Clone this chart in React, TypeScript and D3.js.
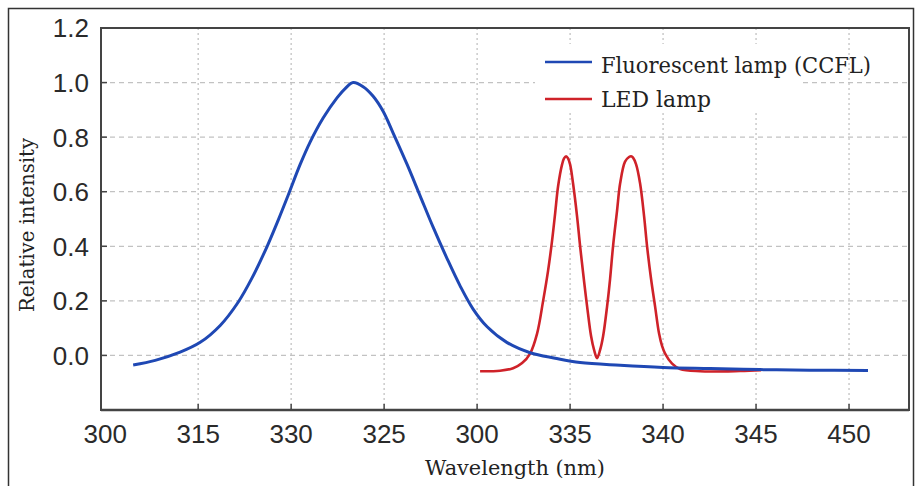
import * as d3 from "d3";

// tick labels as printed on the original axis (not monotonic, so ticks are positional)
const xTickLabels = ["300", "315", "330", "325", "300", "335", "340", "345", "450"];
const yTicks = [0, 0.2, 0.4, 0.6, 0.8, 1.0, 1.2];

// x = position along the axis in tick units (0 = first tick, 8 = last tick)
const ccflX = [0.301, 0.538, 0.806, 1.022, 1.237, 1.43, 1.581, 1.742, 1.86, 1.968, 2.097, 2.204, 2.344, 2.495, 2.581, 2.667, 2.774, 2.882, 2.989, 3.097, 3.247, 3.387, 3.527, 3.677, 3.817, 3.957, 4.108, 4.323, 4.57, 4.839, 5.108, 5.538, 6.0, 6.505, 7.043, 7.581, 8.204];
const ccflY = [-0.035, -0.018, 0.012, 0.048, 0.11, 0.195, 0.285, 0.4, 0.495, 0.587, 0.7, 0.782, 0.87, 0.945, 0.978, 1.0, 0.985, 0.95, 0.895, 0.815, 0.7, 0.585, 0.47, 0.355, 0.255, 0.17, 0.105, 0.047, 0.01, -0.01, -0.026, -0.036, -0.044, -0.048, -0.052, -0.054, -0.055];

const ledX = [4.032, 4.247, 4.387, 4.484, 4.57, 4.645, 4.71, 4.763, 4.806, 4.839, 4.871, 4.914, 4.935, 4.957, 4.978, 5.0, 5.032, 5.075, 5.108, 5.151, 5.183, 5.226, 5.258, 5.29, 5.323, 5.355, 5.398, 5.43, 5.462, 5.505, 5.538, 5.591, 5.634, 5.656, 5.677, 5.71, 5.753, 5.796, 5.828, 5.871, 5.914, 5.957, 5.989, 6.022, 6.097, 6.183, 6.398, 6.828, 7.054];
const ledY = [-0.058, -0.056, -0.047, -0.028, 0.007, 0.08, 0.2, 0.31, 0.42, 0.52, 0.62, 0.7, 0.722, 0.73, 0.722, 0.7, 0.63, 0.51, 0.4, 0.27, 0.18, 0.07, 0.02, -0.01, 0.02, 0.07, 0.18, 0.28, 0.4, 0.53, 0.63, 0.71, 0.727, 0.73, 0.725, 0.7, 0.63, 0.51, 0.4, 0.28, 0.18, 0.08, 0.035, 0.007, -0.03, -0.05, -0.058, -0.057, -0.054];

const seriesNames = ["Fluorescent lamp (CCFL)", "LED lamp"];
const colors = ["#1f48b4", "#cf2229"];

export default function App() {
    const left = 101, right = 909, top = 28, bottom = 410;

    const x = d3.scaleLinear().domain([-0.045, 8.645]).range([left, right]);
    const y = d3.scaleLinear().domain([-0.2, 1.2]).range([bottom, top]);

    const line = d3.line<[number, number]>()
        .x(d => x(d[0]))
        .y(d => y(d[1]))
        .curve(d3.curveCatmullRom.alpha(0.5));

    const ccfl = ccflX.map((v, i) => [v, ccflY[i]] as [number, number]);
    const led = ledX.map((v, i) => [v, ledY[i]] as [number, number]);

    const sans = {fontFamily: '"Liberation Sans", Arial, Helvetica, sans-serif'};
    const serif = {fontFamily: '"DejaVu Serif", "Liberation Serif", serif'};

    return (
        <svg width={916} height={486} style={{position: "absolute", left: 0, top: 0, background: "#fff"}}>
            {/* outer frame */}
            <rect x={8.5} y={8.5} width={905} height={495} fill="none" stroke="#333" strokeWidth={1.5}/>

            {/* grid */}
            {xTickLabels.map((_, i) => i > 0 && (
                <line key={"gx" + i} x1={x(i)} x2={x(i)} y1={top} y2={bottom}
                      stroke="#bdbdbd" strokeWidth={1.2} strokeDasharray="2,3"/>
            ))}
            {yTicks.filter(t => t < 1.1).map(t => (
                <line key={"gy" + t} x1={left} x2={right} y1={y(t)} y2={y(t)}
                      stroke="#c2c2c2" strokeWidth={1.3} strokeDasharray="5,4"/>
            ))}

            {/* legend background */}
            <rect x={535} y={44} width={265} height={69} fill="#fff"/>

            {/* series */}
            <path d={line(led) ?? ""} fill="none" stroke={colors[1]} strokeWidth={2.6}/>
            <path d={line(ccfl) ?? ""} fill="none" stroke={colors[0]} strokeWidth={3}/>

            {/* plot frame */}
            <rect x={left} y={top} width={right - left} height={bottom - top} fill="none" stroke="#444" strokeWidth={2}/>
            <line x1={left} x2={right} y1={bottom} y2={bottom} stroke="#444" strokeWidth={2.6}/>

            {/* ticks */}
            {xTickLabels.map((lab, i) => (
                <g key={"xt" + i}>
                    {i > 0 && <line x1={x(i)} x2={x(i)} y1={bottom} y2={bottom - 6} stroke="#444" strokeWidth={1.5}/>}
                    <text x={x(i)} y={443} textAnchor="middle" style={sans} fontSize={26} fill="#2a2a2a">{lab}</text>
                </g>
            ))}
            {yTicks.map(t => (
                <g key={"yt" + t}>
                    {t < 1.1 && <line x1={left} x2={left + 6} y1={y(t)} y2={y(t)} stroke="#444" strokeWidth={1.5}/>}
                    <text x={89} y={y(t)} dy="0.36em" textAnchor="end" style={sans} fontSize={26} fill="#2a2a2a">{t.toFixed(1)}</text>
                </g>
            ))}

            {/* axis titles */}
            <text x={515} y={475} textAnchor="middle" style={serif} fontSize={21} textLength={180} lengthAdjust="spacingAndGlyphs" fill="#222">Wavelength (nm)</text>
            <text transform="translate(34,225) rotate(-90)" textAnchor="middle" style={serif} fontSize={21} textLength={174} lengthAdjust="spacingAndGlyphs" fill="#222">Relative intensity</text>

            {/* legend */}
            {seriesNames.map((name, i) => (
                <g key={name}>
                    <line x1={545} x2={592} y1={62 + i * 37} y2={62 + i * 37} stroke={colors[i]} strokeWidth={2.6}/>
                    <text x={601} y={73 + i * 34} style={serif} fontSize={23} fill="#222"
                          textLength={i === 0 ? 270 : 110} lengthAdjust="spacingAndGlyphs">{name}</text>
                </g>
            ))}
        </svg>
    );
}
